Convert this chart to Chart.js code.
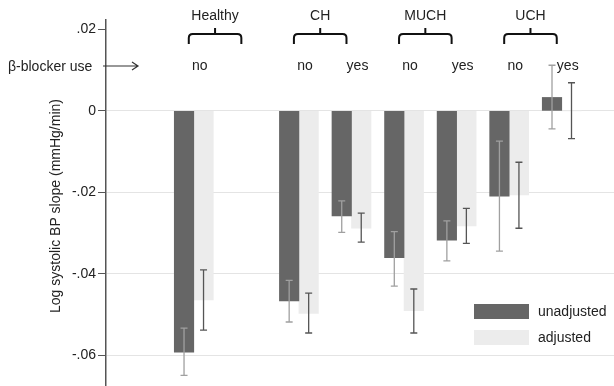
<!DOCTYPE html>
<html>
<head>
<meta charset="utf-8">
<script src="https://cdn.jsdelivr.net/npm/chart.js@4/dist/chart.umd.min.js"></script>
<style>
  html, body { margin: 0; padding: 0; background: #fff; }
  #wrap { width: 614px; height: 386px; }
</style>
</head>
<body>
<div id="wrap"><canvas id="myChart"></canvas></div>
<script>
const myChart = document.getElementById("myChart");

// slot positions (1 = Healthy/no, 2 = Healthy/yes is empty)
const xPos = [1, 3, 4, 5, 6, 7, 8];
const groups = ["Healthy", "CH", "MUCH", "UCH"];
const groupStart = [1, 3, 5, 7];
const blockerLabels = ["no", "no", "yes", "no", "yes", "no", "yes"];

const unadjusted = [-0.0592, -0.0466, -0.0258, -0.036, -0.0317, -0.0209, 0.0033];
const unadjLow = [-0.0649, -0.0518, -0.0298, -0.043, -0.0368, -0.0344, -0.0044];
const unadjHigh = [-0.0533, -0.0416, -0.0221, -0.0296, -0.027, -0.0074, 0.0112];

const adjusted = [-0.0464, -0.0497, -0.0288, -0.049, -0.0282, -0.0206, 0.0];
const adjLow = [-0.0538, -0.0545, -0.0322, -0.0545, -0.0325, -0.0288, -0.0068];
const adjHigh = [-0.039, -0.0447, -0.0251, -0.0437, -0.0239, -0.0126, 0.0069];

const darkColor = "#666666";
const lightColor = "#ececec";
const font = "Liberation Sans, Arial, Helvetica, sans-serif";

const errorBars = {
  id: "errorBars",
  afterDatasetsDraw(chart) {
    const ctx = chart.ctx;
    const y = chart.scales.y;
    const sets = [
      { low: unadjLow, high: unadjHigh, color: "#a0a0a0" },
      { low: adjLow, high: adjHigh, color: "#555555" },
    ];
    sets.forEach((s, di) => {
      const meta = chart.getDatasetMeta(di);
      meta.data.forEach((bar, i) => {
        const x = bar.x;
        const y1 = y.getPixelForValue(s.high[i]);
        const y2 = y.getPixelForValue(s.low[i]);
        ctx.save();
        ctx.strokeStyle = s.color;
        ctx.lineWidth = 1.3;
        ctx.beginPath();
        ctx.moveTo(x, y1); ctx.lineTo(x, y2);
        ctx.moveTo(x - 3.5, y1); ctx.lineTo(x + 3.5, y1);
        ctx.moveTo(x - 3.5, y2); ctx.lineTo(x + 3.5, y2);
        ctx.stroke();
        ctx.restore();
      });
    });
  },
};

const annotations = {
  id: "annotations",
  afterDraw(chart) {
    const ctx = chart.ctx;
    const xs = chart.scales.x;
    ctx.save();
    ctx.fillStyle = "#222";
    ctx.strokeStyle = "#111";
    ctx.font = "14px " + font;
    ctx.textBaseline = "middle";

    // group braces and names
    groups.forEach((g, i) => {
      const a = xs.getPixelForValue(groupStart[i]) - 5;
      const b = xs.getPixelForValue(groupStart[i] + 1) - 5;
      const m = (a + b) / 2;
      ctx.lineWidth = 2;
      ctx.beginPath();
      ctx.moveTo(a, 44);
      ctx.lineTo(a, 38);
      ctx.quadraticCurveTo(a, 34, a + 4, 34);
      ctx.lineTo(b - 4, 34);
      ctx.quadraticCurveTo(b, 34, b, 38);
      ctx.lineTo(b, 44);
      ctx.moveTo(m, 34);
      ctx.lineTo(m, 28);
      ctx.stroke();
      ctx.textAlign = "center";
      ctx.fillText(g, m, 16);
    });

    // beta-blocker labels
    ctx.textAlign = "center";
    xPos.forEach((p, i) => {
      ctx.fillText(blockerLabels[i], xs.getPixelForValue(p) + 6, 66);
    });

    ctx.textAlign = "left";
    ctx.fillText("\u03b2-blocker use", 8, 67);
    ctx.lineWidth = 1.2;
    ctx.strokeStyle = "#333";
    ctx.beginPath();
    ctx.moveTo(103, 66); ctx.lineTo(138, 66);
    ctx.moveTo(132, 62); ctx.lineTo(138, 66); ctx.lineTo(132, 70);
    ctx.stroke();

    // y axis title
    ctx.save();
    ctx.translate(56, 206);
    ctx.rotate(-Math.PI / 2);
    ctx.textAlign = "center";
    ctx.fillText("Log systolic BP slope (mmHg/min)", 0, 0);
    ctx.restore();

    // legend
    const items = [
      { label: "unadjusted", color: darkColor, y: 304 },
      { label: "adjusted", color: lightColor, y: 330 },
    ];
    items.forEach((it) => {
      ctx.fillStyle = it.color;
      ctx.fillRect(474, it.y, 55, 15);
      ctx.fillStyle = "#222";
      ctx.textAlign = "left";
      ctx.fillText(it.label, 538, it.y + 8);
    });
    ctx.restore();
  },
};

new Chart(myChart, {
  type: "bar",
  data: {
    datasets: [
      {
        label: "unadjusted",
        data: xPos.map((x, i) => ({ x: x, y: unadjusted[i] })),
        backgroundColor: darkColor,
        barThickness: 19.5,
      },
      {
        label: "adjusted",
        data: xPos.map((x, i) => ({ x: x, y: adjusted[i] })),
        backgroundColor: lightColor,
        barThickness: 19.5,
      },
    ],
  },
  options: {
    responsive: true,
    maintainAspectRatio: false,
    animation: false,
    layout: { padding: { top: 20, left: 0, right: 0, bottom: 0 } },
    plugins: {
      legend: { display: false },
      tooltip: { enabled: false },
    },
    scales: {
      x: {
        type: "linear",
        display: false,
        min: -0.133,
        max: 8.457,
        ticks: { stepSize: 1, includeBounds: false },
      },
      y: {
        min: -0.0675,
        max: 0.0223,
        afterFit(scale) {
          scale.width = 106;
          scale.paddingTop = 0;
          scale.paddingBottom = 0;
        },
        border: { color: "#555", width: 1.5 },
        grid: {
          color: (c) => (c.tick && c.tick.value > 0.01 ? "rgba(0,0,0,0)" : "#e4e4e4"),
          tickColor: "#555",
          tickLength: 8,
        },
        ticks: {
          stepSize: 0.02,
          includeBounds: false,
          padding: 2,
          color: "#222",
          font: { family: font, size: 14 },
          callback: (v) => {
            const r = Math.round(v * 100) / 100;
            if (r === 0) return "0";
            return String(r).replace("0.", ".");
          },
        },
      },
    },
  },
  plugins: [errorBars, annotations],
});
</script>
</body>
</html>
